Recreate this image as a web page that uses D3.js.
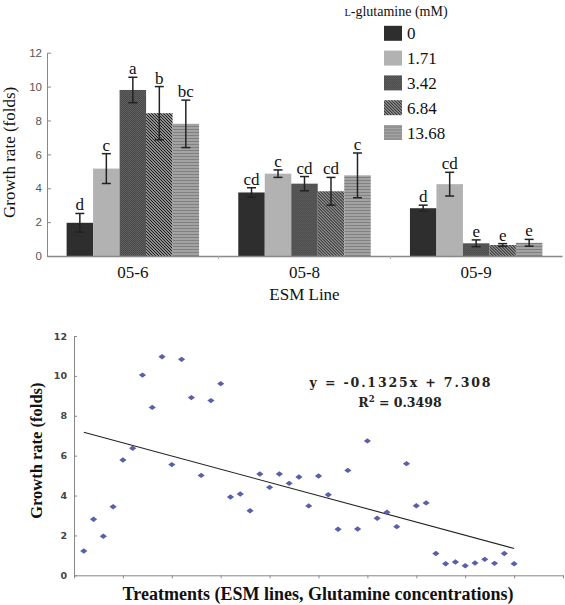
<!DOCTYPE html>
<html><head><meta charset="utf-8">
<script src="https://cdn.jsdelivr.net/npm/d3@7"></script>
<style>
body{margin:0;background:#fff;}
svg{display:block;}
</style></head>
<body>
<svg id="chart" width="565" height="605"></svg>
<script>
// ---------- Data: top bar chart ----------
const esmLines = ["05-6", "05-8", "05-9"];
const concentrations = ["0", "1.71", "3.42", "6.84", "13.68"];
const growth056 = [1.96, 5.16, 9.80, 8.43, 7.80];
const growth058 = [3.75, 4.86, 4.27, 3.82, 4.76];
const growth059 = [2.82, 4.24, 0.75, 0.65, 0.78];
const err056 = [0.55, 0.88, 0.75, 1.57, 1.40];
const err058 = [0.28, 0.22, 0.42, 0.82, 1.32];
const err059 = [0.18, 0.70, 0.20, 0.08, 0.20];
const letters056 = ["d", "c", "a", "b", "bc"];
const letters058 = ["cd", "c", "cd", "cd", "c"];
const letters059 = ["d", "cd", "e", "e", "e"];
const barTicks = [0, 2, 4, 6, 8, 10, 12];

// ---------- Data: bottom scatter ----------
const treatmentIndex = d3.range(1, 46);
const treatmentGrowth = [
  1.22, 2.81, 1.96, 3.44, 5.78, 6.37, 10.04, 8.42, 10.96, 5.55,
  10.83, 8.91, 5.01, 8.76, 9.61, 3.93, 4.08, 3.24, 5.08, 4.41,
  5.08, 4.61, 4.93, 3.48, 4.98, 4.04, 2.31, 5.26, 2.32, 6.74,
  2.86, 3.16, 2.44, 5.60, 3.49, 3.63, 1.09, 0.58, 0.67, 0.48,
  0.62, 0.80, 0.60, 1.09, 0.58];
const trendSlope = -0.1325;
const trendIntercept = 7.308;
const rSquared = 0.3498;
const scatterYTicks = [0, 2, 4, 6, 8, 10, 12];
const scatterXTicks = [0, 5, 10, 15, 20, 25, 30, 35, 40, 45, 50];

const barTable = esmLines.map((line, gi) => {
  const g = [growth056, growth058, growth059][gi];
  const e = [err056, err058, err059][gi];
  const l = [letters056, letters058, letters059][gi];
  return concentrations.map((c, ci) => ({line, conc: c, ci, value: g[ci], err: e[ci], letter: l[ci]}));
});

const svg = d3.select("#chart");
const serif = "'Liberation Serif','Times New Roman',serif";
const sans = "'Liberation Sans',Arial,sans-serif";

// ---------- Patterns ----------
const defs = svg.append("defs");
const pDots = defs.append("pattern").attr("id", "pDots").attr("patternUnits", "userSpaceOnUse")
  .attr("width", 2).attr("height", 2);
pDots.append("rect").attr("width", 2).attr("height", 2).attr("fill", "#5e5e5e");
pDots.append("rect").attr("width", 1).attr("height", 1).attr("fill", "#474747");
pDots.append("rect").attr("x", 1).attr("y", 1).attr("width", 1).attr("height", 1).attr("fill", "#4e4e4e");

const pDiag = defs.append("pattern").attr("id", "pDiag").attr("patternUnits", "userSpaceOnUse")
  .attr("width", 3).attr("height", 3);
pDiag.append("rect").attr("width", 3).attr("height", 3).attr("fill", "#fff");
pDiag.append("path").attr("d", "M-1,-1L4,4M-1,2L1,4M2,-1L4,1")
  .attr("stroke", "#1a1a1a").attr("stroke-width", 1.4);

const pHoriz = defs.append("pattern").attr("id", "pHoriz").attr("patternUnits", "userSpaceOnUse")
  .attr("width", 4).attr("height", 3);
pHoriz.append("rect").attr("width", 4).attr("height", 3).attr("fill", "#a3a3a3");
pHoriz.append("rect").attr("y", 0).attr("width", 4).attr("height", 1).attr("fill", "#808080");

const fills = ["#2e2e2e", "#b2b2b2", "url(#pDots)", "url(#pDiag)", "url(#pHoriz)"];
const fillScale = d3.scaleOrdinal().domain(concentrations).range(fills);

// ---------- Top chart ----------
const topBox = {left: 47, right: 562, y0: 256, y12: 52.7};
const xGroup = d3.scaleBand().domain(esmLines).range([topBox.left, topBox.right]).padding(0);
const xConc = d3.scaleBand().domain(concentrations).range([0, xGroup.bandwidth()])
  .paddingInner(0).paddingOuter(0.74);
const yBar = d3.scaleLinear().domain([0, 12]).range([topBox.y0, topBox.y12]);

const gTop = svg.append("g");

// bars
const groups = gTop.selectAll("g.grp").data(barTable).join("g")
  .attr("class", "grp")
  .attr("transform", d => `translate(${xGroup(d[0].line)},0)`);

groups.selectAll("rect").data(d => d).join("rect")
  .attr("x", d => xConc(d.conc))
  .attr("width", xConc.bandwidth())
  .attr("y", d => yBar(d.value))
  .attr("height", d => yBar(0) - yBar(d.value))
  .attr("fill", d => fillScale(d.conc));

// error bars
const eb = groups.selectAll("g.eb").data(d => d).join("g").attr("class", "eb")
  .attr("stroke", "#222").attr("stroke-width", 1.5);
const cx = d => xConc(d.conc) + xConc.bandwidth() / 2;
eb.append("line").attr("x1", cx).attr("x2", cx)
  .attr("y1", d => yBar(d.value + d.err)).attr("y2", d => yBar(d.value - d.err));
eb.append("line").attr("x1", d => cx(d) - 4.5).attr("x2", d => cx(d) + 4.5)
  .attr("y1", d => yBar(d.value + d.err)).attr("y2", d => yBar(d.value + d.err));
eb.append("line").attr("x1", d => cx(d) - 4.5).attr("x2", d => cx(d) + 4.5)
  .attr("y1", d => yBar(d.value - d.err)).attr("y2", d => yBar(d.value - d.err));

// letters
groups.selectAll("text.let").data(d => d).join("text").attr("class", "let")
  .attr("x", cx).attr("y", d => yBar(d.value + d.err) - 3)
  .attr("text-anchor", "middle").attr("font-family", serif).attr("font-size", 17)
  .attr("fill", "#111").text(d => d.letter);

// y axis
const yAxisTop = gTop.append("g").attr("transform", `translate(${topBox.left},0)`)
  .call(d3.axisLeft(yBar).tickValues(barTicks).tickSizeInner(-4).tickSizeOuter(0).tickPadding(5));
yAxisTop.select(".domain").attr("stroke", "#888");
yAxisTop.selectAll(".tick line").attr("stroke", "#888");
yAxisTop.selectAll(".tick text").attr("font-family", sans).attr("font-size", 11.5).attr("fill", "#555");

// x axis
const xAxisTop = gTop.append("g").attr("transform", `translate(0,${topBox.y0})`)
  .call(d3.axisBottom(xGroup).tickSize(0).tickPadding(10));
xAxisTop.select(".domain").attr("stroke", "#888").attr("stroke-width", 1.5);
xAxisTop.selectAll(".tick text").attr("font-family", serif).attr("font-size", 17).attr("fill", "#111");
gTop.selectAll("line.sep").data(esmLines.slice(1)).join("line").attr("class", "sep")
  .attr("x1", d => xGroup(d)).attr("x2", d => xGroup(d))
  .attr("y1", topBox.y0).attr("y2", topBox.y0 + 3).attr("stroke", "#aaa");

gTop.append("text").attr("x", (topBox.left + topBox.right) / 2).attr("y", 300)
  .attr("text-anchor", "middle").attr("font-family", serif).attr("font-size", 17)
  .attr("fill", "#111").text("ESM Line");

gTop.append("text").attr("transform", `translate(14.5,${(yBar(0) + yBar(12)) / 2 - 2}) rotate(-90)`)
  .attr("text-anchor", "middle").attr("font-family", serif).attr("font-size", 17)
  .attr("fill", "#111").text("Growth rate (folds)");

// legend
const legend = gTop.append("g");
const lt = legend.append("text").attr("x", 396).attr("y", 16).attr("text-anchor", "middle")
  .attr("font-family", serif).attr("font-size", 14).attr("fill", "#111");
lt.append("tspan").attr("font-size", 10.5).text("L");
lt.append("tspan").text("-glutamine (mM)");
const legY = d3.scalePoint().domain(concentrations).range([33.3, 132.5]);
const li = legend.selectAll("g.li").data(concentrations).join("g").attr("class", "li")
  .attr("transform", d => `translate(384,${legY(d)})`);
li.append("rect").attr("x", 0).attr("y", -7.5).attr("width", 18).attr("height", 15)
  .attr("fill", d => fillScale(d));
li.append("text").attr("x", 23).attr("y", 6).attr("font-family", serif).attr("font-size", 17)
  .attr("fill", "#111").text(d => d);

// ---------- Bottom chart ----------
const botBox = {left: 74, right: 563, y0: 575.3, y12: 336};
const xS = d3.scaleLinear().domain([0, 50]).range([botBox.left, botBox.right]);
const yS = d3.scaleLinear().domain([0, 12]).range([botBox.y0, botBox.y12]);
const gBot = svg.append("g");

const yAxisBot = gBot.append("g").attr("transform", `translate(${botBox.left},0)`)
  .call(d3.axisLeft(yS).tickValues(scatterYTicks).tickSizeInner(-3).tickSizeOuter(0).tickPadding(7));
yAxisBot.select(".domain").attr("stroke", "#888");
yAxisBot.selectAll(".tick line").attr("stroke", "#888");
yAxisBot.selectAll(".tick text").attr("font-family", "'DejaVu Sans',Verdana,sans-serif")
  .attr("font-weight", "bold").attr("font-size", 9.5).attr("fill", "#444");

const xAxisBot = gBot.append("g").attr("transform", `translate(0,${botBox.y0})`)
  .call(d3.axisBottom(xS).tickValues(scatterXTicks).tickFormat("").tickSizeInner(3).tickSizeOuter(0));
xAxisBot.select(".domain").attr("stroke", "#888");
xAxisBot.selectAll(".tick line").attr("stroke", "#888");

// trend line
const trend = d3.line().x(d => xS(d)).y(d => yS(trendSlope * d + trendIntercept));
gBot.append("path").datum([treatmentIndex[0], treatmentIndex[treatmentIndex.length - 1]])
  .attr("d", trend).attr("fill", "none").attr("stroke", "#222").attr("stroke-width", 1.1);

// points
gBot.selectAll("path.pt").data(treatmentIndex).join("path").attr("class", "pt")
  .attr("transform", (d, i) => `translate(${xS(d)},${yS(treatmentGrowth[i])})`)
  .attr("d", "M-3.6,0L0,-2.7L3.6,0L0,2.7Z").attr("fill", "#5b5fa8");

// equation
gBot.append("text").attr("x", 400).attr("y", 386.5).attr("text-anchor", "middle")
  .attr("font-family", "'DejaVu Serif',serif").attr("font-weight", "bold").attr("font-size", 12.5)
  .attr("textLength", 181).attr("lengthAdjust", "spacing").attr("fill", "#222")
  .text(`y = ${trendSlope}x + ${trendIntercept}`);
const r2t = gBot.append("text").attr("x", 400).attr("y", 407).attr("text-anchor", "middle")
  .attr("font-family", "'DejaVu Serif',serif").attr("font-weight", "bold").attr("font-size", 12.5)
  .attr("fill", "#222");
r2t.append("tspan").text("R");
r2t.append("tspan").attr("font-size", 8.5).attr("dy", -5).text("2");
r2t.append("tspan").attr("dy", 5).text(` = ${rSquared}`);

gBot.append("text").attr("transform", `translate(42,${(yS(0) + yS(12)) / 2 - 5}) rotate(-90)`)
  .attr("text-anchor", "middle").attr("font-family", serif).attr("font-weight", "bold")
  .attr("font-size", 16.5).attr("fill", "#111").text("Growth rate (folds)");

gBot.append("text").attr("x", 318).attr("y", 600).attr("text-anchor", "middle")
  .attr("font-family", serif).attr("font-weight", "bold").attr("font-size", 18)
  .attr("fill", "#111").text("Treatments (ESM lines, Glutamine concentrations)");
</script>
</body></html>
